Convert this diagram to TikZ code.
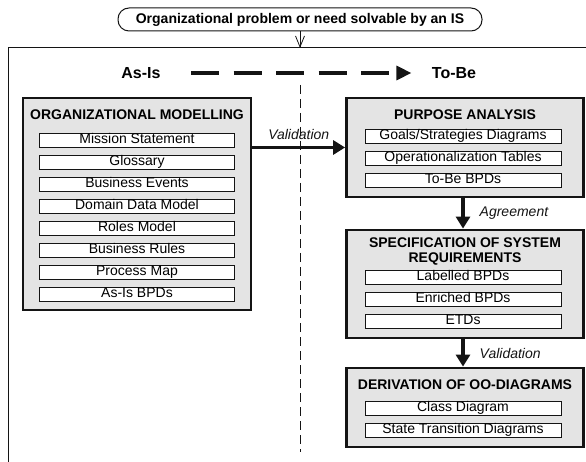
\documentclass[tikz,border=0pt]{standalone}
\usepackage{fontspec}
\setmainfont{Liberation Sans}
\usetikzlibrary{positioning,arrows.meta}
\definecolor{ink}{HTML}{141414}
\definecolor{boxgray}{HTML}{E4E4E4}

\begin{document}
\begin{tikzpicture}[x=1pt,y=-1pt,font=\fontsize{14}{15}\selectfont,
  stagebox/.style={draw=ink,fill=boxgray,line width=2.8pt,inner sep=0pt},
  itembox/.style={draw=ink,fill=white,line width=0.8pt,inner sep=0pt,
    minimum height=14pt,text height=9.5pt,text depth=2.5pt},
  stagetitle/.style={font=\fontsize{14}{15}\selectfont\bfseries,align=center,inner sep=0pt},
  flowarrow/.style={ink,line width=3.4pt,-{Triangle[length=12pt,width=14pt]}},
  flowlabel/.style={font=\fontsize{14}{15}\selectfont\itshape,inner sep=0pt}]
\useasboundingbox (0,0) rectangle (586,462);

% problem statement and frame
\node[draw=ink,line width=1pt,rounded corners=11pt,minimum width=364pt,minimum height=23pt,
  inner sep=0pt,font=\fontsize{14}{15}\selectfont\bfseries] (issue) at (300,19.5)
  {Organizational problem or need solvable by an IS};
\coordinate (frametop) at (300,48);
\draw[ink,line width=1pt] (8,462) -- (8,48) -- (586,48);
\draw[ink,line width=0.8pt,-{Straight Barb[length=11pt,width=9pt]}] (issue) -- (frametop);

% as-is / to-be
\node[font=\fontsize{16}{18}\selectfont\bfseries] (asis) at (141,73) {As-Is};
\node[font=\fontsize{16}{18}\selectfont\bfseries] (tobe) at (454,73) {To-Be};
\draw[ink,line width=3.2pt,dash pattern=on 28pt off 14.5pt,shorten <=27pt,shorten >=17pt,
  -{Triangle[length=15pt,width=14pt]}] (asis) -- (tobe);
\coordinate (splittop) at (300,85);
\coordinate (splitbot) at (300,452);
\draw[ink,line width=0.9pt,dash pattern=on 9pt off 5pt] (splittop) -- (splitbot);

% stages
\node[stagebox,minimum width=228pt,minimum height=212pt] (org) at (137,204) {};
\node[stagebox,minimum width=237pt,minimum height=99pt] (pa) at (465,147.5) {};
\node[stagebox,minimum width=237pt,minimum height=108pt] (spec) at (465,284) {};
\node[stagebox,minimum width=237pt,minimum height=79pt] (deriv) at (465,407.5) {};

\node[stagetitle] (orgtitle) at (137,115) {ORGANIZATIONAL MODELLING};
\node[stagetitle] (patitle) at (465,115) {PURPOSE ANALYSIS};
\node[stagetitle] (spectitle) at (465,251) {SPECIFICATION OF SYSTEM\\REQUIREMENTS};
\node[stagetitle] (derivtitle) at (465,385) {DERIVATION OF OO-DIAGRAMS};

\foreach \txt [count=\i from 0] in {Mission Statement,Glossary,Business Events,
    Domain Data Model,Roles Model,Business Rules,Process Map,As-Is BPDs}
  {\node[itembox,minimum width=195pt] (om\i) at (137,{140+22*\i}) {\txt};}
\foreach \txt [count=\i from 0] in {Goals/Strategies Diagrams,Operationalization Tables,To-Be BPDs}
  {\node[itembox,minimum width=196pt] (pa\i) at (463,{136+22*\i}) {\txt};}
\foreach \txt [count=\i from 0] in {Labelled BPDs,Enriched BPDs,ETDs}
  {\node[itembox,minimum width=196pt] (sr\i) at (463,{277+22*\i}) {\txt};}
\foreach \txt [count=\i from 0] in {Class Diagram,State Transition Diagrams}
  {\node[itembox,minimum width=196pt] (dd\i) at (463,{408+22*\i}) {\txt};}

% transitions
\draw[flowarrow] (org.east |- pa.west) -- node[flowlabel,above=6pt] {Validation} (pa.west);
\draw[flowarrow] (pa.south -| pa0) -- node[flowlabel,right=15pt] {Agreement} (spec.north -| pa0);
\draw[flowarrow] (spec.south -| pa0) -- node[flowlabel,right=15pt] {Validation} (deriv.north -| pa0);
\end{tikzpicture}
\end{document}
